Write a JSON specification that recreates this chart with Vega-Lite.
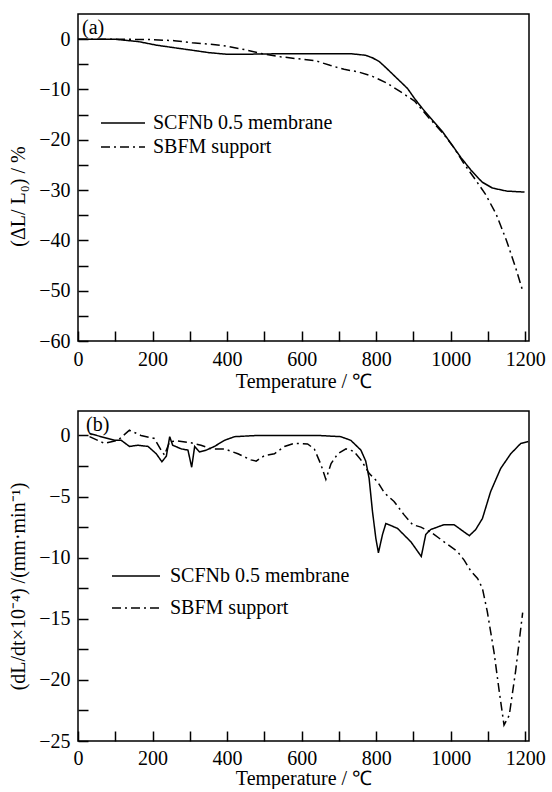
{
  "$schema": "https://vega.github.io/schema/vega-lite/v6.json",
  "autosize": {"type": "pad"},
  "padding": {"left": 7, "top": 13, "right": 5, "bottom": 0},
  "background": "white",
  "config": {
    "font": "Liberation Serif",
    "view": {"stroke": "black", "strokeWidth": 1.5},
    "axis": {
      "domain": false, "grid": false,
      "labelFont": "Liberation Serif", "labelFontSize": 20, "labelColor": "black",
      "titleFont": "Liberation Serif", "titleFontSize": 20, "titleFontWeight": "normal", "titleColor": "black",
      "labelOverlap": false, "labelFlush": false
    },
    "legend": {"padding": 0, "labelFont": "Liberation Serif", "labelFontSize": 20, "labelColor": "black", "labelLimit": 400}
  },
  "datasets": {
    "a": [
      {"t": 0, "v": 0, "s": "SCFNb 0.5 membrane"},
      {"t": 97, "v": 0, "s": "SCFNb 0.5 membrane"},
      {"t": 163, "v": -0.5, "s": "SCFNb 0.5 membrane"},
      {"t": 211, "v": -1.2, "s": "SCFNb 0.5 membrane"},
      {"t": 258, "v": -1.7, "s": "SCFNb 0.5 membrane"},
      {"t": 306, "v": -2.2, "s": "SCFNb 0.5 membrane"},
      {"t": 353, "v": -2.7, "s": "SCFNb 0.5 membrane"},
      {"t": 400, "v": -3.0, "s": "SCFNb 0.5 membrane"},
      {"t": 448, "v": -3.0, "s": "SCFNb 0.5 membrane"},
      {"t": 543, "v": -2.9, "s": "SCFNb 0.5 membrane"},
      {"t": 638, "v": -2.9, "s": "SCFNb 0.5 membrane"},
      {"t": 733, "v": -2.9, "s": "SCFNb 0.5 membrane"},
      {"t": 771, "v": -3.2, "s": "SCFNb 0.5 membrane"},
      {"t": 790, "v": -3.7, "s": "SCFNb 0.5 membrane"},
      {"t": 809, "v": -4.5, "s": "SCFNb 0.5 membrane"},
      {"t": 828, "v": -5.8, "s": "SCFNb 0.5 membrane"},
      {"t": 856, "v": -7.8, "s": "SCFNb 0.5 membrane"},
      {"t": 884, "v": -9.8, "s": "SCFNb 0.5 membrane"},
      {"t": 903, "v": -11.8, "s": "SCFNb 0.5 membrane"},
      {"t": 922, "v": -13.6, "s": "SCFNb 0.5 membrane"},
      {"t": 951, "v": -16.1, "s": "SCFNb 0.5 membrane"},
      {"t": 979, "v": -18.5, "s": "SCFNb 0.5 membrane"},
      {"t": 1008, "v": -21.5, "s": "SCFNb 0.5 membrane"},
      {"t": 1027, "v": -23.5, "s": "SCFNb 0.5 membrane"},
      {"t": 1055, "v": -26.1, "s": "SCFNb 0.5 membrane"},
      {"t": 1084, "v": -28.4, "s": "SCFNb 0.5 membrane"},
      {"t": 1112, "v": -29.6, "s": "SCFNb 0.5 membrane"},
      {"t": 1150, "v": -30.2, "s": "SCFNb 0.5 membrane"},
      {"t": 1198, "v": -30.4, "s": "SCFNb 0.5 membrane"},
      {"t": 0, "v": 0, "s": "SBFM support"},
      {"t": 97, "v": 0, "s": "SBFM support"},
      {"t": 201, "v": -0.1, "s": "SBFM support"},
      {"t": 258, "v": -0.3, "s": "SBFM support"},
      {"t": 306, "v": -0.7, "s": "SBFM support"},
      {"t": 353, "v": -1.0, "s": "SBFM support"},
      {"t": 400, "v": -1.4, "s": "SBFM support"},
      {"t": 448, "v": -2.1, "s": "SBFM support"},
      {"t": 495, "v": -2.9, "s": "SBFM support"},
      {"t": 543, "v": -3.5, "s": "SBFM support"},
      {"t": 590, "v": -3.9, "s": "SBFM support"},
      {"t": 638, "v": -4.3, "s": "SBFM support"},
      {"t": 676, "v": -5.2, "s": "SBFM support"},
      {"t": 714, "v": -6.0, "s": "SBFM support"},
      {"t": 752, "v": -6.5, "s": "SBFM support"},
      {"t": 790, "v": -7.4, "s": "SBFM support"},
      {"t": 828, "v": -8.7, "s": "SBFM support"},
      {"t": 866, "v": -10.5, "s": "SBFM support"},
      {"t": 903, "v": -12.3, "s": "SBFM support"},
      {"t": 941, "v": -15.6, "s": "SBFM support"},
      {"t": 979, "v": -18.7, "s": "SBFM support"},
      {"t": 1008, "v": -21.5, "s": "SBFM support"},
      {"t": 1036, "v": -24.8, "s": "SBFM support"},
      {"t": 1065, "v": -27.8, "s": "SBFM support"},
      {"t": 1093, "v": -30.8, "s": "SBFM support"},
      {"t": 1122, "v": -34.8, "s": "SBFM support"},
      {"t": 1150, "v": -40.1, "s": "SBFM support"},
      {"t": 1174, "v": -45.4, "s": "SBFM support"},
      {"t": 1193, "v": -50.0, "s": "SBFM support"}
    ],
    "b": [
      {"t": 31, "v": 0.16, "s": "SCFNb 0.5 membrane"},
      {"t": 62, "v": -0.1, "s": "SCFNb 0.5 membrane"},
      {"t": 98, "v": -0.4, "s": "SCFNb 0.5 membrane"},
      {"t": 116, "v": -0.4, "s": "SCFNb 0.5 membrane"},
      {"t": 138, "v": -0.9, "s": "SCFNb 0.5 membrane"},
      {"t": 161, "v": -0.8, "s": "SCFNb 0.5 membrane"},
      {"t": 188, "v": -0.9, "s": "SCFNb 0.5 membrane"},
      {"t": 210, "v": -1.5, "s": "SCFNb 0.5 membrane"},
      {"t": 225, "v": -2.15, "s": "SCFNb 0.5 membrane"},
      {"t": 237, "v": -1.7, "s": "SCFNb 0.5 membrane"},
      {"t": 246, "v": -0.1, "s": "SCFNb 0.5 membrane"},
      {"t": 254, "v": -0.8, "s": "SCFNb 0.5 membrane"},
      {"t": 277, "v": -1.1, "s": "SCFNb 0.5 membrane"},
      {"t": 295, "v": -1.2, "s": "SCFNb 0.5 membrane"},
      {"t": 305, "v": -2.6, "s": "SCFNb 0.5 membrane"},
      {"t": 313, "v": -0.9, "s": "SCFNb 0.5 membrane"},
      {"t": 326, "v": -1.35, "s": "SCFNb 0.5 membrane"},
      {"t": 344, "v": -1.2, "s": "SCFNb 0.5 membrane"},
      {"t": 366, "v": -0.9, "s": "SCFNb 0.5 membrane"},
      {"t": 393, "v": -0.4, "s": "SCFNb 0.5 membrane"},
      {"t": 420, "v": -0.1, "s": "SCFNb 0.5 membrane"},
      {"t": 482, "v": 0, "s": "SCFNb 0.5 membrane"},
      {"t": 643, "v": 0, "s": "SCFNb 0.5 membrane"},
      {"t": 705, "v": -0.1, "s": "SCFNb 0.5 membrane"},
      {"t": 732, "v": -0.4, "s": "SCFNb 0.5 membrane"},
      {"t": 759, "v": -1.2, "s": "SCFNb 0.5 membrane"},
      {"t": 772, "v": -2.1, "s": "SCFNb 0.5 membrane"},
      {"t": 781, "v": -3.5, "s": "SCFNb 0.5 membrane"},
      {"t": 790, "v": -6.2, "s": "SCFNb 0.5 membrane"},
      {"t": 799, "v": -8.4, "s": "SCFNb 0.5 membrane"},
      {"t": 806, "v": -9.6, "s": "SCFNb 0.5 membrane"},
      {"t": 817, "v": -8.1, "s": "SCFNb 0.5 membrane"},
      {"t": 826, "v": -7.2, "s": "SCFNb 0.5 membrane"},
      {"t": 857, "v": -7.6, "s": "SCFNb 0.5 membrane"},
      {"t": 893, "v": -8.7, "s": "SCFNb 0.5 membrane"},
      {"t": 921, "v": -9.9, "s": "SCFNb 0.5 membrane"},
      {"t": 933, "v": -8.1, "s": "SCFNb 0.5 membrane"},
      {"t": 946, "v": -7.7, "s": "SCFNb 0.5 membrane"},
      {"t": 982, "v": -7.3, "s": "SCFNb 0.5 membrane"},
      {"t": 1009, "v": -7.3, "s": "SCFNb 0.5 membrane"},
      {"t": 1036, "v": -7.9, "s": "SCFNb 0.5 membrane"},
      {"t": 1050, "v": -8.2, "s": "SCFNb 0.5 membrane"},
      {"t": 1067, "v": -7.7, "s": "SCFNb 0.5 membrane"},
      {"t": 1085, "v": -6.8, "s": "SCFNb 0.5 membrane"},
      {"t": 1107, "v": -4.6, "s": "SCFNb 0.5 membrane"},
      {"t": 1134, "v": -2.7, "s": "SCFNb 0.5 membrane"},
      {"t": 1161, "v": -1.5, "s": "SCFNb 0.5 membrane"},
      {"t": 1188, "v": -0.65, "s": "SCFNb 0.5 membrane"},
      {"t": 1208, "v": -0.5, "s": "SCFNb 0.5 membrane"},
      {"t": 31, "v": -0.1, "s": "SBFM support"},
      {"t": 71, "v": -0.65, "s": "SBFM support"},
      {"t": 107, "v": -0.4, "s": "SBFM support"},
      {"t": 138, "v": 0.43, "s": "SBFM support"},
      {"t": 169, "v": 0, "s": "SBFM support"},
      {"t": 205, "v": -0.25, "s": "SBFM support"},
      {"t": 223, "v": -1.2, "s": "SBFM support"},
      {"t": 232, "v": -1.6, "s": "SBFM support"},
      {"t": 246, "v": -0.5, "s": "SBFM support"},
      {"t": 268, "v": -0.45, "s": "SBFM support"},
      {"t": 303, "v": -0.6, "s": "SBFM support"},
      {"t": 330, "v": -0.8, "s": "SBFM support"},
      {"t": 357, "v": -1.1, "s": "SBFM support"},
      {"t": 393, "v": -1.1, "s": "SBFM support"},
      {"t": 429, "v": -1.5, "s": "SBFM support"},
      {"t": 464, "v": -2.0, "s": "SBFM support"},
      {"t": 478, "v": -2.1, "s": "SBFM support"},
      {"t": 500, "v": -1.65, "s": "SBFM support"},
      {"t": 527, "v": -1.5, "s": "SBFM support"},
      {"t": 554, "v": -0.9, "s": "SBFM support"},
      {"t": 580, "v": -0.65, "s": "SBFM support"},
      {"t": 616, "v": -0.7, "s": "SBFM support"},
      {"t": 634, "v": -1.1, "s": "SBFM support"},
      {"t": 652, "v": -2.4, "s": "SBFM support"},
      {"t": 665, "v": -3.6, "s": "SBFM support"},
      {"t": 679, "v": -2.3, "s": "SBFM support"},
      {"t": 697, "v": -1.5, "s": "SBFM support"},
      {"t": 719, "v": -1.1, "s": "SBFM support"},
      {"t": 740, "v": -1.3, "s": "SBFM support"},
      {"t": 759, "v": -2.0, "s": "SBFM support"},
      {"t": 781, "v": -3.1, "s": "SBFM support"},
      {"t": 804, "v": -3.8, "s": "SBFM support"},
      {"t": 822, "v": -4.7, "s": "SBFM support"},
      {"t": 848, "v": -5.4, "s": "SBFM support"},
      {"t": 875, "v": -6.5, "s": "SBFM support"},
      {"t": 898, "v": -7.3, "s": "SBFM support"},
      {"t": 920, "v": -7.5, "s": "SBFM support"},
      {"t": 946, "v": -7.9, "s": "SBFM support"},
      {"t": 982, "v": -8.7, "s": "SBFM support"},
      {"t": 1018, "v": -9.5, "s": "SBFM support"},
      {"t": 1036, "v": -10.2, "s": "SBFM support"},
      {"t": 1054, "v": -11.1, "s": "SBFM support"},
      {"t": 1072, "v": -11.7, "s": "SBFM support"},
      {"t": 1085, "v": -12.5, "s": "SBFM support"},
      {"t": 1098, "v": -14.4, "s": "SBFM support"},
      {"t": 1116, "v": -17.7, "s": "SBFM support"},
      {"t": 1130, "v": -20.9, "s": "SBFM support"},
      {"t": 1143, "v": -23.7, "s": "SBFM support"},
      {"t": 1157, "v": -22.9, "s": "SBFM support"},
      {"t": 1174, "v": -19.3, "s": "SBFM support"},
      {"t": 1193, "v": -14.5, "s": "SBFM support"}
    ]
  },
  "vconcat": [
    {
      "width": 451, "height": 327,
      "title": {"text": "(a)", "anchor": "start", "frame": "group", "orient": "top", "offset": -24, "dx": 4,
        "fontSize": 20, "font": "Liberation Serif", "fontWeight": "normal", "color": "black"},
      "data": {"name": "a"},
      "mark": {"type": "line", "color": "black", "strokeWidth": 1.5},
      "encoding": {
        "x": {"field": "t", "type": "quantitative",
          "scale": {"domain": [0, 1210], "nice": false, "zero": false},
          "axis": {"title": "Temperature / ℃", "format": "d", "offset": -10, "tickSize": 10,
            "ticks": true, "tickColor": "black", "tickWidth": 1.5,
            "values": [0,100,200,300,400,500,600,700,800,900,1000,1100,1200],
            "labelExpr": "datum.value % 200 === 0 ? datum.label : ''",
            "encode": {"ticks": {"update": {"y": {"signal": "datum.value % 200 === 0 ? 0 : 4"}}}},
            "labelPadding": 8, "titlePadding": 2}},
        "y": {"field": "v", "type": "quantitative",
          "scale": {"domain": [-60, 5], "nice": false, "zero": false},
          "axis": {"title": "(ΔL/ L₀) / %", "format": "d", "offset": -10, "tickSize": 10,
            "ticks": true, "tickColor": "black", "tickWidth": 1.5,
            "values": [-60,-55,-50,-45,-40,-35,-30,-25,-20,-15,-10,-5,0],
            "labelExpr": "datum.value % 10 === 0 ? datum.label : ''",
            "encode": {"ticks": {"update": {"x": {"signal": "datum.value % 10 === 0 ? 0 : -4"}}}},
            "labelPadding": 8, "titlePadding": 10, "titleY": 182}},
        "strokeDash": {"field": "s", "type": "nominal",
          "scale": {"domain": ["SCFNb 0.5 membrane", "SBFM support"], "range": [[1, 0], [9, 4, 2, 4]]},
          "legend": {"orient": "none", "legendX": 23, "legendY": 97, "title": null,
            "symbolType": "M-2,0H2", "symbolSize": 484, "symbolOffset": 10, "symbolStrokeWidth": 1.5,
            "symbolStrokeColor": "black", "symbolFillColor": "transparent", "labelOffset": 18, "rowPadding": 2}}
      }
    },
    {
      "width": 451, "height": 330,
      "title": {"text": "(b)", "anchor": "start", "frame": "group", "orient": "top", "offset": -24, "dx": 8,
        "fontSize": 20, "font": "Liberation Serif", "fontWeight": "normal", "color": "black"},
      "data": {"name": "b"},
      "mark": {"type": "line", "color": "black", "strokeWidth": 1.5},
      "encoding": {
        "x": {"field": "t", "type": "quantitative",
          "scale": {"domain": [0, 1210], "nice": false, "zero": false},
          "axis": {"title": "Temperature / ℃", "format": "d", "offset": -10, "tickSize": 10,
            "ticks": true, "tickColor": "black", "tickWidth": 1.5,
            "values": [0,100,200,300,400,500,600,700,800,900,1000,1100,1200],
            "labelExpr": "datum.value % 200 === 0 ? datum.label : ''",
            "encode": {"ticks": {"update": {"y": {"signal": "datum.value % 200 === 0 ? 0 : 4"}}}},
            "labelPadding": 7, "titlePadding": 0}},
        "y": {"field": "v", "type": "quantitative",
          "scale": {"domain": [-25, 2], "nice": false, "zero": false},
          "axis": {"title": "(dL/dt×10⁻⁴) /(mm·min⁻¹)", "format": "d", "offset": -10, "tickSize": 10,
            "ticks": true, "tickColor": "black", "tickWidth": 1.5,
            "values": [-25,-22.5,-20,-17.5,-15,-12.5,-10,-7.5,-5,-2.5,0],
            "labelExpr": "datum.value % 5 === 0 ? datum.label : ''",
            "encode": {"ticks": {"update": {"x": {"signal": "datum.value % 5 === 0 ? 0 : -4"}}}},
            "labelPadding": 8, "titlePadding": 10, "titleY": 175}},
        "strokeDash": {"field": "s", "type": "nominal",
          "scale": {"domain": ["SCFNb 0.5 membrane", "SBFM support"], "range": [[1, 0], [9, 4, 2, 4]]},
          "legend": {"orient": "none", "legendX": 34, "legendY": 152, "title": null,
            "symbolType": "M-2,0H2", "symbolSize": 576, "symbolOffset": 11, "symbolStrokeWidth": 1.5,
            "symbolStrokeColor": "black", "symbolFillColor": "transparent", "labelOffset": 21, "rowPadding": 9}}
      }
    }
  ],
  "resolve": {"scale": {"strokeDash": "independent"}},
  "spacing": 18
}
